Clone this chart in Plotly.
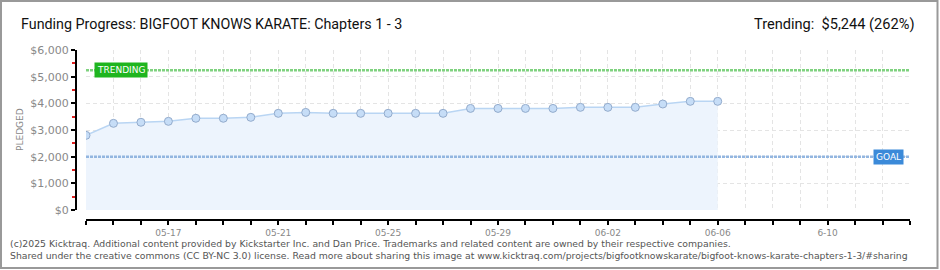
import plotly.graph_objects as go
import pandas as pd

# ---- data ----
dates = pd.date_range("2025-05-14", "2025-06-06", freq="D").strftime("%Y-%m-%d").tolist()
pledged = [2800, 3250, 3290, 3325, 3440, 3440, 3475, 3625, 3660, 3625, 3625, 3625,
           3625, 3625, 3810, 3810, 3810, 3810, 3850, 3850, 3850, 3975, 4075, 4075]
axis_days = pd.date_range("2025-05-14", "2025-06-13", freq="D").strftime("%Y-%m-%d").tolist()
label_map = {"2025-05-17": "05-17", "2025-05-21": "05-21", "2025-05-25": "05-25",
             "2025-05-29": "05-29", "2025-06-02": "06-02", "2025-06-06": "06-06",
             "2025-06-10": "6-10"}
tick_text = [label_map.get(d, "") for d in axis_days]
goal = 2000
trending = 5244
y_ticks = [0, 1000, 2000, 3000, 4000, 5000, 6000]
y_tick_text = ["$0", "$1,000", "$2,000", "$3,000", "$4,000", "$5,000", "$6,000"]

title_text = "Funding Progress: BIGFOOT KNOWS KARATE: Chapters 1 - 3"
trend_text = "Trending:  $5,244 (262%)"
footer1 = ("(c)2025 Kicktraq. Additional content provided by Kickstarter Inc. and Dan Price. "
           "Trademarks and related content are owned by their respective companies.")
footer2 = ("Shared under the creative commons (CC BY-NC 3.0) license. Read more about sharing this "
           "image at www.kicktraq.com/projects/bigfootknowskarate/bigfoot-knows-karate-chapters-1-3/#sharing")

# ---- geometry (pixels) ----
W, H = 940, 270
ML, MR, MT, MB = 76, 30, 50, 50
PW = W - ML - MR
PH = H - MT - MB


def px(x):
    return (x - ML) / PW


def py(y):
    return (H - MB - y) / PH


fig = go.Figure()

fig.add_trace(go.Scatter(
    x=dates, y=pledged, mode="lines+markers",
    fill="tozeroy", fillcolor="#edf4fd",
    line=dict(color="#b9d5f3", width=1.5),
    marker=dict(size=8, color="#c6ddf7", line=dict(color="#93abcc", width=1)),
    hoverinfo="skip", showlegend=False))

fig.add_trace(go.Scatter(
    x=[axis_days[0], axis_days[-1]], y=[trending, trending], mode="lines",
    line=dict(color="#7fd27f", width=2.5, dash="3px,1px"),
    hoverinfo="skip", showlegend=False))

fig.add_trace(go.Scatter(
    x=[axis_days[0], axis_days[-1]], y=[goal, goal], mode="lines",
    line=dict(color="#93b6e0", width=2.5, dash="3px,1px"),
    hoverinfo="skip", showlegend=False))

gray = "#888888"
fig.update_layout(
    width=W, height=H,
    margin=dict(l=ML, r=MR, t=MT, b=MB),
    paper_bgcolor="white", plot_bgcolor="white",
    title=dict(text=title_text, x=21 / W, y=1 - 24 / H, xanchor="left", yanchor="middle",
               font=dict(family="Roboto", size=14.3, color="#111111")),
    xaxis=dict(
        domain=[10 / PW, 1], anchor="free", position=0,
        range=[axis_days[0], axis_days[-1]], type="date",
        tickmode="array", tickvals=axis_days, ticktext=tick_text,
        ticks="outside", ticklen=4, tickwidth=1.5, tickcolor="black",
        showline=True, linecolor="black", linewidth=2,
        showgrid=True, gridcolor="#e4e4e4", griddash="4px,3px", gridwidth=1,
        tickfont=dict(family="DejaVu Sans", size=9, color=gray),
        zeroline=False, fixedrange=True),
    yaxis=dict(
        domain=[10 / PH, 1], anchor="free", position=0,
        range=[0, 6000],
        tickmode="array", tickvals=y_ticks, ticktext=y_tick_text,
        ticks="outside", ticklen=4, tickwidth=1.5, tickcolor="black",
        minor=dict(tickvals=[500, 1500, 2500, 3500, 4500, 5500], ticks="outside",
                   ticklen=3, tickcolor="#e02020", tickwidth=1.5, showgrid=False),
        showline=True, linecolor="black", linewidth=2,
        showgrid=True, gridcolor="#e4e4e4", griddash="4px,3px", gridwidth=1,
        tickfont=dict(family="DejaVu Sans", size=11, color=gray),
        zeroline=False, fixedrange=True),
)

ann = [
    dict(text=trend_text, xref="paper", yref="paper", x=px(916), y=py(24),
         xanchor="right", yanchor="middle", showarrow=False,
         font=dict(family="Roboto", size=14.6, color="#111111")),
    dict(text="PLEDGED", xref="paper", yref="paper", x=px(20), y=py(130),
         textangle=-90, xanchor="center", yanchor="middle", showarrow=False,
         font=dict(family="DejaVu Sans", size=9, color=gray)),
    dict(text="TRENDING", xref="paper", yref="y", x=px(120.5), y=trending,
         xanchor="center", yanchor="middle", showarrow=False,
         bgcolor="#1fb51f", borderpad=2,
         font=dict(family="DejaVu Sans", size=9, color="white")),
    dict(text="GOAL", xref="paper", yref="y", x=px(888), y=goal,
         xanchor="center", yanchor="middle", showarrow=False,
         bgcolor="#3b8ad9", borderpad=2,
         font=dict(family="DejaVu Sans", size=9, color="white")),
    dict(text=footer1, xref="paper", yref="paper", x=px(8), y=py(243),
         xanchor="left", yanchor="middle", showarrow=False,
         font=dict(family="DejaVu Sans", size=9.3, color="#555555")),
    dict(text=footer2, xref="paper", yref="paper", x=px(8), y=py(256),
         xanchor="left", yanchor="middle", showarrow=False,
         font=dict(family="DejaVu Sans", size=9.3, color="#555555")),
]
fig.update_layout(annotations=ann)

fig.add_shape(type="rect", xref="paper", yref="paper",
              x0=px(1), x1=px(937.5), y0=py(268), y1=py(1),
              line=dict(color="#999999", width=2), fillcolor="rgba(0,0,0,0)", layer="above")

fig.write_html("out.html")
